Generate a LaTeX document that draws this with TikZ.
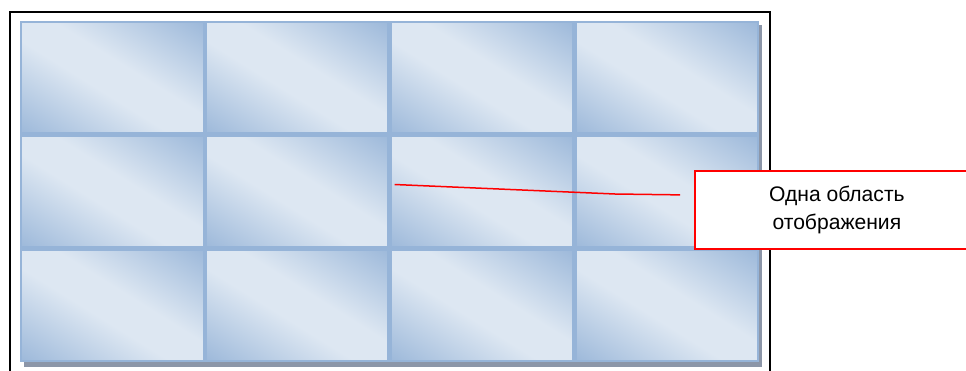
\documentclass[tikz,border=0pt]{standalone}
\usepackage{fontspec}
\setmainfont{Liberation Sans}
\usepackage{tikz}
\usetikzlibrary{positioning}
\definecolor{tileDark}{RGB}{149,179,215}
\definecolor{tileLight}{RGB}{221,231,242}
\definecolor{tileEdge}{RGB}{150,180,216}
\definecolor{shadowGray}{RGB}{140,150,168}
\pgfdeclareverticalshading{tileglow}{100bp}{color(0bp)=(tileDark); color(12bp)=(tileDark); color(44bp)=(tileLight);
  color(56bp)=(tileLight); color(88bp)=(tileDark); color(100bp)=(tileDark)}
\tikzset{
  wall/.style={x=0.2mm, y=-0.2mm},
  tile/.style={draw=tileEdge, line width=0.45mm, inner sep=0pt, outer sep=0pt,
               minimum width=36.5mm, minimum height=22.28mm, shading=tileglow, shading angle=-32},
  frame/.style={draw=black, line width=0.45mm},
  callout/.style={draw=red, line width=0.35mm, fill=white, inner sep=0pt, minimum width=56.8mm, minimum height=15.6mm,
                  align=center, font=\fontsize{12}{15.5}\selectfont},
  lead/.style={red, line width=0.3mm}
}

\begin{document}
\begin{tikzpicture}[wall]
\useasboundingbox (0,0) rectangle (966,370);
\clip (0,0) rectangle (966,370);
\draw[frame] (10,12) rectangle (770,400);
\fill[shadowGray] (24,25) rectangle (762,367);
\foreach \r in {1,2,3}
  \foreach \c in {1,...,4}
    \node[tile] (t\r\c) at ({20+184.75*(\c-0.5)}, {21+113.67*(\r-0.5)}) {};
\node[callout, anchor=north west] (note) at (694,170) {Одна область\\отображения};
\coordinate (bend) at (615,194);
\draw[lead] ([shift={(4,-7)}]t23.west) -- (bend) -- ([shift={(-14,-15)}]note.west);
\end{tikzpicture}
\end{document}
